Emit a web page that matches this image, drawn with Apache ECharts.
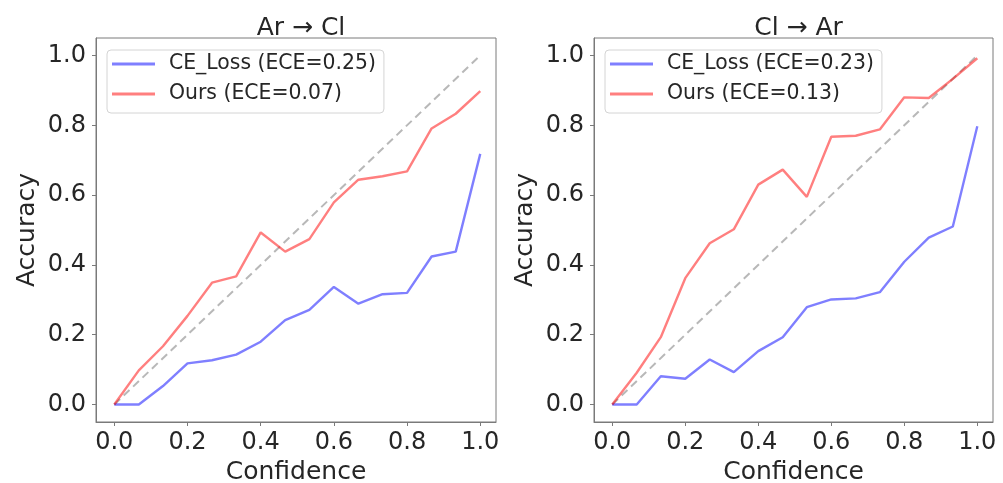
<!DOCTYPE html>
<html>
<head>
<meta charset="utf-8">
<script src="https://cdn.jsdelivr.net/npm/echarts@6/dist/echarts.min.js"></script>
<style>
html,body{margin:0;padding:0;background:#fff;}
#chart{width:1003px;height:483px;}
</style>
</head>
<body>
<div id="chart"></div>
<script>
// ---- data ----
var confidence = [0, 0.067, 0.133, 0.2, 0.267, 0.333, 0.4, 0.467, 0.533, 0.6, 0.667, 0.733, 0.8, 0.867, 0.933, 1.0];
var tickValues = [0, 0.2, 0.4, 0.6, 0.8, 1.0];
var titles = ['Ar \u2192 Cl', 'Cl \u2192 Ar'];

var arCl_ce   = [0, 0, 0.053, 0.118, 0.127, 0.143, 0.18, 0.242, 0.271, 0.337, 0.289, 0.316, 0.32, 0.424, 0.438, 0.718];
var arCl_ours = [0, 0.098, 0.167, 0.254, 0.349, 0.367, 0.493, 0.438, 0.474, 0.579, 0.644, 0.654, 0.668, 0.791, 0.833, 0.898];
var clAr_ce   = [0, 0, 0.081, 0.074, 0.129, 0.093, 0.153, 0.193, 0.279, 0.301, 0.304, 0.322, 0.409, 0.478, 0.510, 0.797];
var clAr_ours = [0, 0.091, 0.193, 0.362, 0.462, 0.502, 0.630, 0.673, 0.595, 0.767, 0.770, 0.788, 0.880, 0.878, 0.933, 0.992];
var diagonal  = [0, 1];
var diagonalX = [0, 1];

var ceNames   = ['CE_Loss (ECE=0.25)', 'CE_Loss (ECE=0.23)'];
var oursNames = ['Ours (ECE=0.07)', 'Ours (ECE=0.13)'];

function pairs(xs, ys){ return xs.map(function(x,i){ return [x, ys[i]]; }); }

var FONT = 'DejaVu Sans';
var BLUE = 'rgba(0,0,255,0.5)';
var RED = 'rgba(255,0,0,0.5)';
var GRAY = '#b8b8b8';
var FRAME = '#7a7a7a';

var grids = [
  {left: 96, top: 38, width: 400, height: 384},
  {left: 594, top: 38, width: 399, height: 384}
];
var legendLeft = [107, 605];

function xAxisFor(i){
  return {
    type: 'value', gridIndex: i, min: -0.05, max: 1.043,
    name: 'Confidence', nameLocation: 'middle', nameGap: 34,
    nameTextStyle: {fontFamily: FONT, fontSize: 25, color: '#262626'},
    axisLine: {show: true, onZero: false, lineStyle: {color: FRAME, width: 1}},
    splitLine: {show: false},
    axisTick: {show: true, inside: false, length: 4, lineStyle: {color: FRAME, width: 1}, customValues: tickValues},
    axisLabel: {fontFamily: FONT, fontSize: 24, color: '#262626', margin: 9,
      customValues: tickValues, formatter: function(v){ return v.toFixed(1); }}
  };
}
function yAxisFor(i){
  return {
    type: 'value', gridIndex: i, min: -0.05, max: 1.05,
    name: 'Accuracy', nameLocation: 'middle', nameGap: 56, nameRotate: 90,
    nameTextStyle: {fontFamily: FONT, fontSize: 25, color: '#262626'},
    axisLine: {show: true, onZero: false, lineStyle: {color: FRAME, width: 1}},
    splitLine: {show: false},
    axisTick: {show: true, inside: false, length: 4, lineStyle: {color: FRAME, width: 1}, customValues: tickValues},
    axisLabel: {fontFamily: FONT, fontSize: 24, color: '#262626', margin: 10,
      customValues: tickValues, formatter: function(v){ return v.toFixed(1); }}
  };
}

var ceData = [arCl_ce, clAr_ce];
var oursData = [arCl_ours, clAr_ours];

var series = [];
for (var i = 0; i < 2; i++) {
  series.push({
    type: 'line', xAxisIndex: i, yAxisIndex: i, symbol: 'none', silent: true,
    data: pairs(diagonalX, diagonal),
    lineStyle: {color: GRAY, width: 2, type: [8, 5]}, z: 1
  });
  series.push({
    type: 'line', name: ceNames[i], xAxisIndex: i, yAxisIndex: i, symbol: 'none',
    data: pairs(confidence, ceData[i]),
    itemStyle: {color: BLUE},
    lineStyle: {color: BLUE, width: 2.4}, z: 2
  });
  series.push({
    type: 'line', name: oursNames[i], xAxisIndex: i, yAxisIndex: i, symbol: 'none',
    data: pairs(confidence, oursData[i]),
    itemStyle: {color: RED},
    lineStyle: {color: RED, width: 2.4}, z: 3
  });
}

var option = {
  backgroundColor: '#fff',
  animation: false,
  title: [0, 1].map(function(i){
    return {text: titles[i], left: grids[i].left + grids[i].width / 2, top: 11, textAlign: 'center',
      textStyle: {fontFamily: FONT, fontSize: 25, fontWeight: 'normal', color: '#262626'}};
  }),
  legend: [0, 1].map(function(i){
    return {
      data: [ceNames[i], oursNames[i]], orient: 'vertical',
      left: legendLeft[i], top: 50,
      padding: [2, 8, 7, 5], itemGap: 6,
      itemWidth: 43, itemHeight: 3, icon: 'rect',
      borderColor: '#d4d4d4', borderWidth: 1, borderRadius: 4,
      backgroundColor: 'rgba(255,255,255,0.8)',
      textStyle: {fontFamily: FONT, fontSize: 20.4, color: '#262626', lineHeight: 24, padding: [0, 0, 0, 9]},
      selectedMode: false
    };
  }),
  grid: grids.map(function(g){
    return {left: g.left, top: g.top, width: g.width, height: g.height, show: true,
      borderColor: FRAME, borderWidth: 1, backgroundColor: 'transparent', containLabel: false,
      outerBoundsMode: 'none'};
  }),
  xAxis: [xAxisFor(0), xAxisFor(1)],
  yAxis: [yAxisFor(0), yAxisFor(1)],
  series: series
};

var chart = echarts.init(document.getElementById('chart'), null, {renderer: 'canvas'});
chart.setOption(option);
</script>
</body>
</html>
